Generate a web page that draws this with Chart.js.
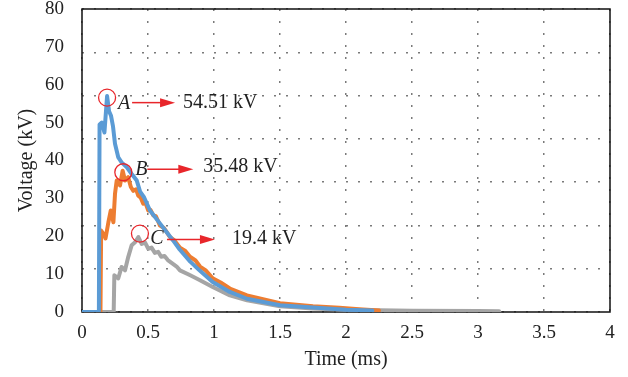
<!DOCTYPE html>
<html>
<head>
<meta charset="utf-8">
<script src="https://cdn.jsdelivr.net/npm/chart.js@4/dist/chart.umd.min.js"></script>
<style>
  html, body { margin: 0; padding: 0; background: #fff; }
  canvas { display: block; }
</style>
</head>
<body>
<canvas id="chart" width="628" height="377"></canvas>
<script>
// tick labels
const xTickLabels = ["0", "0.5", "1", "1.5", "2", "2.5", "3", "3.5", "4"];
const yTickLabels = ["0", "10", "20", "30", "40", "50", "60", "70", "80"];

// series A (blue)
const blueT = [0, 0.128, 0.133, 0.15, 0.17, 0.19, 0.205, 0.22, 0.235, 0.25, 0.275, 0.3, 0.34, 0.375, 0.415, 0.44, 0.47, 0.515, 0.59, 0.69, 0.74, 0.82, 0.89, 0.99, 1.12, 1.25, 1.5, 1.75, 2.0, 2.2];
const blueV = [0, 0, 49.5, 50, 47.4, 57, 53, 51.8, 49, 44.4, 40.8, 39.5, 38.2, 36.5, 34.7, 31.8, 30.3, 26.8, 23.4, 18.9, 16.5, 13.3, 11, 7.9, 5.3, 3.5, 1.8, 1.2, 0.6, 0.4];

// series B (orange)
const orangeT = [0, 0.14, 0.145, 0.165, 0.178, 0.2, 0.218, 0.238, 0.25, 0.263, 0.288, 0.308, 0.326, 0.35, 0.37, 0.389, 0.41, 0.426, 0.445, 0.464, 0.48, 0.502, 0.52, 0.54, 0.56, 0.591, 0.62, 0.667, 0.7, 0.742, 0.78, 0.818, 0.86, 0.894, 0.94, 0.99, 1.05, 1.12, 1.25, 1.5, 1.75, 1.95, 2.1, 2.25];
const orangeV = [0, 0, 21.5, 20.5, 19.4, 23.7, 26.8, 23.7, 31.2, 34.7, 33.4, 37.3, 34.7, 35.6, 33, 32, 32.4, 30.7, 30.2, 28.6, 28.9, 26.8, 26.9, 25.5, 25.3, 22.8, 22.2, 19.8, 18.9, 17, 16.2, 14.6, 13.6, 12, 10.9, 8.9, 7.8, 6.2, 4.4, 2.3, 1.5, 1.1, 0.7, 0.4];

// series C (grey)
const grayT = [0, 0.24, 0.245, 0.275, 0.3, 0.326, 0.35, 0.376, 0.402, 0.427, 0.452, 0.477, 0.502, 0.527, 0.552, 0.577, 0.6, 0.625, 0.65, 0.717, 0.742, 0.82, 0.894, 0.99, 1.12, 1.25, 1.5, 1.75, 2.0, 2.5, 3.0, 3.16];
const grayV = [0, 0, 9.7, 8.9, 11.9, 11, 14.5, 17.6, 18.4, 19.8, 18, 18.4, 16.7, 17, 15.6, 15.9, 14.6, 14.8, 13.7, 12, 11, 9.7, 8.4, 6.6, 4.4, 3.1, 1.5, 0.9, 0.6, 0.35, 0.25, 0.2];

// peak callouts
const peakNames = ["A", "B", "C"];
const peakT = [0.19, 0.313, 0.439];
const peakV = [56.6, 36.9, 20.7];
const peakText = ["54.51 kV", "35.48 kV", "19.4 kV"];

const serif = '"Liberation Serif", "DejaVu Serif", serif';
const red = "#e8262b";

const toPoints = (ts, vs) => ts.map((t, i) => ({ x: t, y: vs[i] }));

// label offsets from the circle: letter, arrow start/end, text start
const calloutLayout = [
  { lx: 17, ly: 6, a0: 25, a1: 68, ay: 5, tx: 76, ty: 5 },
  { lx: 18, ly: -2, a0: 24, a1: 70, ay: -3, tx: 80, ty: -5 },
  { lx: 17, ly: 5, a0: 27, a1: 75, ay: 6, tx: 92, ty: 5 },
];

const frameAndCallouts = {
  id: "frameAndCallouts",
  beforeDatasetsDraw(chart) {
    const { ctx, chartArea: a } = chart;
    ctx.save();
    ctx.strokeStyle = "#111";
    ctx.lineWidth = 1.5;
    ctx.strokeRect(a.left, a.top, a.right - a.left, a.bottom - a.top);
    ctx.restore();
  },
  afterDatasetsDraw(chart) {
    const { ctx, scales } = chart;
    ctx.save();
    peakNames.forEach((name, i) => {
      const cx = scales.x.getPixelForValue(peakT[i]);
      const cy = scales.y.getPixelForValue(peakV[i]);
      const L = calloutLayout[i];

      ctx.strokeStyle = red;
      ctx.lineWidth = 1.3;
      ctx.beginPath();
      ctx.arc(cx, cy, 8.5, 0, Math.PI * 2);
      ctx.stroke();

      ctx.fillStyle = "#222";
      ctx.textBaseline = "middle";
      ctx.textAlign = "center";
      ctx.font = "italic 20px " + serif;
      ctx.fillText(name, cx + L.lx, cy + L.ly);

      const ay = cy + L.ay;
      const x0 = cx + L.a0;
      const x1 = cx + L.a1;
      ctx.lineWidth = 1.5;
      ctx.beginPath();
      ctx.moveTo(x0, ay);
      ctx.lineTo(x1 - 12, ay);
      ctx.stroke();
      ctx.fillStyle = red;
      ctx.beginPath();
      ctx.moveTo(x1, ay);
      ctx.lineTo(x1 - 15, ay - 4.5);
      ctx.lineTo(x1 - 15, ay + 4.5);
      ctx.closePath();
      ctx.fill();

      ctx.fillStyle = "#222";
      ctx.textAlign = "left";
      ctx.font = "20px " + serif;
      ctx.fillText(peakText[i], cx + L.tx, cy + L.ty);
    });
    ctx.restore();
  },
};

const gridStyle = { color: "#7a7a7a", lineWidth: 1.5, drawTicks: false };
const lineStyle = { borderWidth: 4, pointRadius: 0, tension: 0, borderJoinStyle: "round", borderCapStyle: "round" };

new Chart(document.getElementById("chart"), {
  type: "line",
  data: {
    datasets: [
      { ...lineStyle, data: toPoints(blueT, blueV), borderColor: "#5b9bd5", order: 0 },
      { ...lineStyle, data: toPoints(orangeT, orangeV), borderColor: "#ed7d31", order: 1 },
      { ...lineStyle, data: toPoints(grayT, grayV), borderColor: "#a5a5a5", order: 2 },
    ],
  },
  options: {
    responsive: false,
    animation: false,
    devicePixelRatio: 1,
    layout: { padding: { top: 9, right: 18, left: 0, bottom: 0 } },
    plugins: { legend: { display: false }, tooltip: { enabled: false } },
    scales: {
      x: {
        type: "linear",
        min: 0,
        max: 4,
        grid: gridStyle,
        border: { display: false, dash: [2, 10] },
        ticks: {
          stepSize: 0.5,
          padding: 10,
          color: "#222",
          font: { family: serif, size: 19 },
          callback: (v, i) => xTickLabels[i],
        },
        title: {
          display: true,
          text: "Time (ms)",
          color: "#222",
          font: { family: serif, size: 20 },
          padding: { top: 0, bottom: 5 },
        },
        afterFit: (s) => { s.height = 65; s.paddingLeft = 0; s.paddingRight = 0; },
      },
      y: {
        position: "left",
        min: 0,
        max: 80,
        grid: { display: false },
        border: { display: false },
        ticks: {
          stepSize: 10,
          padding: 10,
          color: "#222",
          font: { family: serif, size: 19 },
          callback: (v, i) => yTickLabels[i],
        },
        title: {
          display: true,
          text: "Voltage (kV)",
          color: "#222",
          font: { family: serif, size: 20 },
          padding: { top: 15, bottom: 0 },
        },
        afterFit: (s) => { s.width = 82; s.paddingTop = 0; s.paddingBottom = 0; },
      },
      yGrid: {
        position: "left",
        min: 0,
        max: 7,
        grid: gridStyle,
        border: { display: false, dash: [2, 10] },
        ticks: { display: false, stepSize: 1 },
        afterFit: (s) => { s.width = 0; s.paddingTop = 0; s.paddingBottom = 0; },
      },
    },
  },
  plugins: [frameAndCallouts],
});
</script>
</body>
</html>
